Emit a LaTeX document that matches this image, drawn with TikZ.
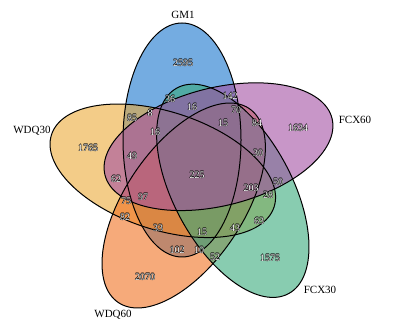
\documentclass[tikz,border=0pt]{standalone}
\usepackage{fontspec}
\setmainfont{Liberation Serif}
\usepackage{tikz}

\definecolor{gmblue}{RGB}{24,116,205}
\definecolor{fxviolet}{RGB}{163,80,163}
\definecolor{fxgreen}{RGB}{57,170,123}
\definecolor{wqorange}{RGB}{240,113,33}
\definecolor{wqyellow}{RGB}{235,170,57}

% white figures with a thin dark rim
\newcommand{\halo}[1]{\leavevmode
  \rlap{\textcolor{black}{\kern-0.35pt#1}}%
  \rlap{\textcolor{black}{\kern0.35pt#1}}%
  \rlap{\textcolor{black}{\raisebox{0.35pt}{#1}}}%
  \rlap{\textcolor{black}{\raisebox{-0.35pt}{#1}}}%
  \textcolor{white}{#1}}

\begin{document}
\begin{tikzpicture}[x=1pt,y=1pt,
    setfill/.style={fill opacity=0.6},
    setrim/.style={draw=black, line width=1pt},
    num/.style={font=\fontsize{10}{12}\selectfont, inner sep=0pt},
    catlabel/.style={font=\fontsize{11}{13}\selectfont, inner sep=0pt}
  ]
    \useasboundingbox (0,0) rectangle (398,331);

    % Cinco elipses: centro, giro, color (orden de pintado: GM1, WDQ30, WDQ60, FCX30, FCX60)
    \foreach \cx/\cy/\ang/\col in {182/191/90/gmblue, 162.8/160.2/162/wqyellow,
        183.7/125.5/-124/wqorange, 232.8/140.2/-61.5/fxgreen, 218.5/184.3/14/fxviolet}
      \fill[\col, setfill, rotate around={\ang:(\cx,\cy)}] (\cx,\cy) ellipse (117 and 59);
    \foreach \cx/\cy/\ang in {182/191/90, 218.5/184.3/14,
        232.8/140.2/-61.5, 183.7/125.5/-124, 162.8/160.2/162}
      \draw[setrim, rotate around={\ang:(\cx,\cy)}] (\cx,\cy) ellipse (117 and 59);

    % Nombres de los conjuntos
    \node[catlabel] (gm1) at (183,316) {GM1};
    \node[catlabel] (fcx60) at (355,211) {FCX60};
    \node[catlabel] (fcx30) at (320,41) {FCX30};
    \node[catlabel] (wdq60) at (113,16) {WDQ60};
    \node[catlabel] (wdq30) at (32,200) {WDQ30};

    % Recuentos por region
    \node[num] (n2595) at (183,268) {\halo{2595}};
    \node[num] (n36) at (170,232) {\halo{36}};
    \node[num] (n16a) at (192,224) {\halo{16}};
    \node[num] (n142) at (230,235) {\halo{142}};
    \node[num] (n70) at (236,221) {\halo{70}};
    \node[num] (n85) at (132,213) {\halo{85}};
    \node[num] (n8) at (150,218) {\halo{8}};
    \node[num] (n15a) at (223,208) {\halo{15}};
    \node[num] (n84) at (257,208) {\halo{84}};
    \node[num] (n1634) at (298,203) {\halo{1634}};
    \node[num] (n16b) at (155,199) {\halo{16}};
    \node[num] (n30) at (258,178) {\halo{30}};
    \node[num] (n225) at (197,156) {\halo{225}};
    \node[num] (n50) at (278,149) {\halo{50}};
    \node[num] (n203) at (251,143) {\halo{203}};
    \node[num] (n28) at (268,136) {\halo{28}};
    \node[num] (n97) at (143,134) {\halo{97}};
    \node[num] (n1765) at (88,183) {\halo{1765}};
    \node[num] (n49) at (132,175) {\halo{49}};
    \node[num] (n62) at (116,152) {\halo{62}};
    \node[num] (n75) at (126,130) {\halo{75}};
    \node[num] (n82) at (125,114) {\halo{82}};
    \node[num] (n33) at (158,103) {\halo{33}};
    \node[num] (n63) at (259,110) {\halo{63}};
    \node[num] (n15b) at (202,99) {\halo{15}};
    \node[num] (n43) at (235,103) {\halo{43}};
    \node[num] (n102) at (177,81) {\halo{102}};
    \node[num] (n10) at (199,81) {\halo{10}};
    \node[num] (n52) at (215,74) {\halo{52}};
    \node[num] (n1575) at (270,73) {\halo{1575}};
    \node[num] (n2070) at (145,54) {\halo{2070}};
\end{tikzpicture}
\end{document}
